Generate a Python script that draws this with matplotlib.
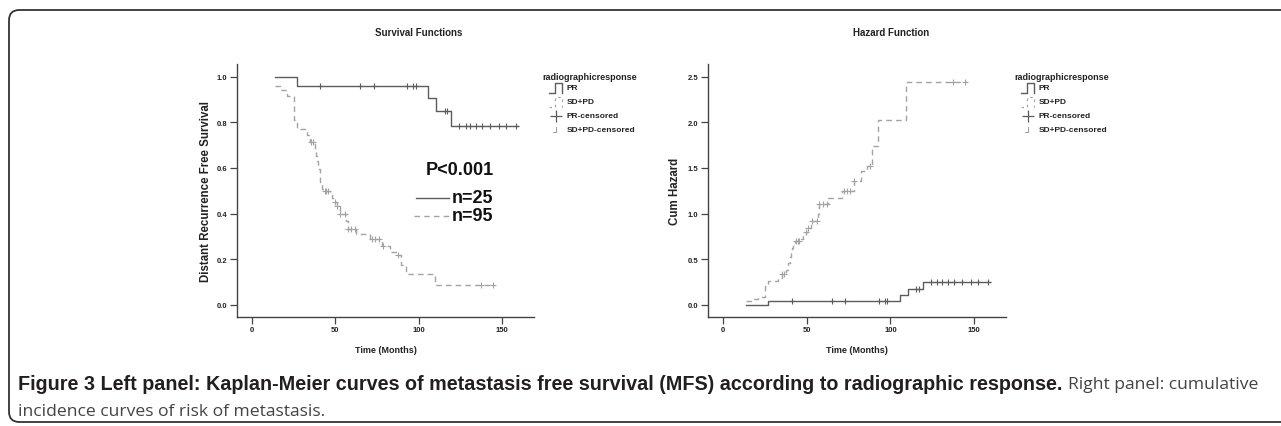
import numpy as np
import matplotlib
matplotlib.use("Agg")
import matplotlib.pyplot as plt
from matplotlib import font_manager
from matplotlib.patches import FancyBboxPatch

# ---- data ----
# PR group: step times and survival after each step
pr_t = [13.5, 27, 105.5, 110.5, 119.5, 159.5]
pr_surv = [1.0, 0.96, 0.905, 0.848, 0.782, 0.782]
pr_haz = [0.0, 0.044, 0.105, 0.17, 0.247, 0.247]
pr_cens = [41, 65, 73, 93, 96.5, 98, 115.5, 117, 124, 128, 130.5, 134.5, 138,
           142.5, 148, 152.5, 158.5]

# SD+PD group
sd_t = [13.5, 17, 21, 25, 27, 33, 35, 37.5, 38.5, 39, 39.8, 40.5, 41, 42, 43,
        46.5, 48, 49.5, 51, 52.5, 56.5, 57.5, 62.5, 71, 78, 82.5, 86, 89, 92.3,
        109.5, 145]
sd_surv = [0.96, 0.94, 0.917, 0.81, 0.77, 0.745, 0.712, 0.68, 0.654, 0.63, 0.595,
           0.566, 0.537, 0.507, 0.497, 0.486, 0.47, 0.449, 0.434, 0.40, 0.368,
           0.332, 0.31, 0.288, 0.256, 0.23, 0.218, 0.175, 0.135, 0.086, 0.086]
sd_haz = [0.04, 0.065, 0.09, 0.21, 0.26, 0.295, 0.34, 0.385, 0.425, 0.46, 0.52,
          0.57, 0.62, 0.68, 0.70, 0.72, 0.755, 0.80, 0.84, 0.92, 1.0, 1.10, 1.17,
          1.245, 1.36, 1.47, 1.52, 1.74, 2.03, 2.44, 2.44]
sd_cens = [35.5, 36.5, 43.5, 44.5, 45.5, 49.5, 51, 53, 56, 57.5, 59.5, 62, 72,
           74, 76, 78.5, 87.5, 137.5, 144.5]

xticks = [0, 50, 100, 150]
surv_ticks = [0.0, 0.2, 0.4, 0.6, 0.8, 1.0]
haz_ticks = [0.0, 0.5, 1.0, 1.5, 2.0, 2.5]
legend_title = "radiographicresponse"
legend_labels = ["PR", "SD+PD", "PR-censored", "SD+PD-censored"]

caption_bold = ("Figure 3 Left panel: Kaplan-Meier curves of metastasis free "
                "survival (MFS) according to radiographic response.")
caption_reg1 = "Right panel: cumulative"
caption_reg2 = "incidence curves of risk of metastasis."

PR_COL = "#5c5c5c"
SD_COL = "#a3a3a3"
DASH = (0, (4, 3))

plt.rcParams["font.family"] = ["Liberation Sans", "DejaVu Sans"]

W, H = 1281, 427
fig = plt.figure(figsize=(W / 100, H / 100), dpi=100)


def px_axes(l, t, r, b):
    return fig.add_axes([l / W, 1 - b / H, (r - l) / W, (b - t) / H])


def step_value(times, vals, at):
    idx = np.searchsorted(times, at, side="right") - 1
    return np.asarray(vals)[idx]


def style_axes(ax, ylim, yticks, ylabel, title, ylabelpad):
    ax.set_xlim(-9, 169)
    ax.set_ylim(*ylim)
    for s in ["top", "right"]:
        ax.spines[s].set_visible(False)
    for s in ["left", "bottom"]:
        ax.spines[s].set_color("#444444")
        ax.spines[s].set_linewidth(1.0)
    ax.set_xticks(xticks)
    ax.set_yticks(yticks)
    ax.set_yticklabels([f"{v:.1f}" for v in yticks])
    ax.tick_params(length=5, width=0.9, color="#444444", labelsize=5.5,
                   labelcolor="#222222", pad=2)
    for lab in ax.get_xticklabels() + ax.get_yticklabels():
        lab.set_fontweight("bold")
    ax.set_xlabel("Time (Months)", fontsize=6.5, fontweight="bold",
                  color="#222222", labelpad=8)
    ax.set_ylabel(ylabel, fontsize=8.3, fontweight="bold", color="#222222",
                  labelpad=ylabelpad)
    ax.text(0.613, 1.125, title, transform=ax.transAxes, ha="center",
            va="center", fontsize=7, fontweight="bold", color="#222222")


def draw_legend(x0):
    # x0 = left pixel of legend title
    def fx(px):
        return px / W

    def fy(py):
        return 1 - py / H

    fig.text(fx(x0), fy(77), legend_title, fontsize=6.5, fontweight="bold",
             color="#222222", va="center", ha="left")
    ix = x0 + 7
    lx = x0 + 24.5
    ys = [89, 102.7, 117, 130.7]
    # PR step icon
    fig.add_artist(plt.Line2D([fx(ix), fx(ix + 6), fx(ix + 6), fx(ix + 13), fx(ix + 13)],
                              [fy(94), fy(94), fy(84), fy(84), fy(94)],
                              color=PR_COL, lw=1.0))
    # SD+PD step icon
    fig.add_artist(plt.Line2D([fx(ix), fx(ix + 6), fx(ix + 6), fx(ix + 13), fx(ix + 13)],
                              [fy(108), fy(108), fy(98), fy(98), fy(108)],
                              color=SD_COL, lw=0.9, linestyle=(0, (2, 3))))
    # PR-censored icon
    fig.add_artist(plt.Line2D([fx(ix + 7)], [fy(ys[2])], marker="+", ms=8,
                              mew=0.9, color=PR_COL, linestyle="none"))
    # SD+PD-censored icon
    fig.add_artist(plt.Line2D([fx(ix + 4), fx(ix + 7), fx(ix + 7)],
                              [fy(ys[3] + 2), fy(ys[3] + 2), fy(ys[3] - 3)],
                              color=SD_COL, lw=0.8))
    for lab, y in zip(legend_labels, ys):
        fig.text(fx(lx), fy(y), lab, fontsize=6, fontweight="bold",
                 color="#222222", va="center", ha="left")


# ---- left panel: survival ----
ax1 = px_axes(237, 65, 534, 317.7)
ax1.step(pr_t, pr_surv, where="post", color=PR_COL, lw=1.0)
ax1.step(sd_t, sd_surv, where="post", color=SD_COL, lw=1.0, linestyle=DASH)
ax1.plot(pr_cens, step_value(pr_t, pr_surv, pr_cens), "+", color=PR_COL,
         ms=5, mew=0.8)
ax1.plot(sd_cens, step_value(sd_t, sd_surv, sd_cens), "+", color=SD_COL,
         ms=5, mew=0.8)
style_axes(ax1, (-0.0526, 1.0557), surv_ticks,
           "Distant Recurrence Free Survival", "Survival Functions", 3)
ax1.text(104, 0.595, "P<0.001", fontsize=13, fontweight="bold",
         color="#111111", va="center", ha="left")
ax1.plot([98, 118], [0.469, 0.469], color=PR_COL, lw=1.0)
ax1.plot([97, 118], [0.39, 0.39], color=SD_COL, lw=1.0, linestyle=DASH)
ax1.text(120, 0.47, "n=25", fontsize=13, fontweight="bold", color="#111111",
         va="center", ha="left")
ax1.text(120, 0.393, "n=95", fontsize=13, fontweight="bold", color="#111111",
         va="center", ha="left")
draw_legend(542)

# ---- right panel: cumulative hazard ----
ax2 = px_axes(708, 65, 1006, 317.7)
ax2.step(pr_t, pr_haz, where="post", color=PR_COL, lw=1.0)
ax2.step(sd_t, sd_haz, where="post", color=SD_COL, lw=1.0, linestyle=DASH)
ax2.plot(pr_cens, step_value(pr_t, pr_haz, pr_cens), "+", color=PR_COL,
         ms=5, mew=0.8)
ax2.plot(sd_cens, step_value(sd_t, sd_haz, sd_cens), "+", color=SD_COL,
         ms=5, mew=0.8)
style_axes(ax2, (-0.13, 2.64), haz_ticks, "Cum Hazard", "Hazard Function", 5)
draw_legend(1014)

# ---- frame ----
frame = FancyBboxPatch((9 / W, 1 - 423 / H), 1.2, (423 - 11) / H,
                       boxstyle="round,pad=0,rounding_size=0.008",
                       transform=fig.transFigure, fill=False,
                       edgecolor="#333333", lw=1.3, mutation_aspect=W / H)
fig.add_artist(frame)

# ---- caption ----
names = {f.name for f in font_manager.fontManager.ttflist}
bold_font = "Liberation Sans Narrow" if "Liberation Sans Narrow" in names else "Liberation Sans"
reg_font = "Open Sans" if "Open Sans" in names else "Liberation Sans"
renderer = fig.canvas.get_renderer()
cb = fig.text(18 / W, 1 - 385 / H, caption_bold, fontsize=12, fontweight="bold",
              family=bold_font, color="#231f20", va="center", ha="left")
w = cb.get_window_extent(renderer).width
cb.set_fontsize(12 * 1040 / w)
ext = cb.get_window_extent(renderer)
cr = fig.text((ext.x1 + 6) / W, 1 - 385 / H, caption_reg1, fontsize=12,
              family=reg_font, color="#444444", va="center", ha="left")
wr = cr.get_window_extent(renderer).width
reg_size = 12 * (1258 - ext.x1 - 6) / wr
cr.set_fontsize(reg_size)
fig.text(18 / W, 1 - 412 / H, caption_reg2, fontsize=reg_size, family=reg_font,
         color="#444444", va="center", ha="left")

fig.savefig("out.png", dpi=100)
